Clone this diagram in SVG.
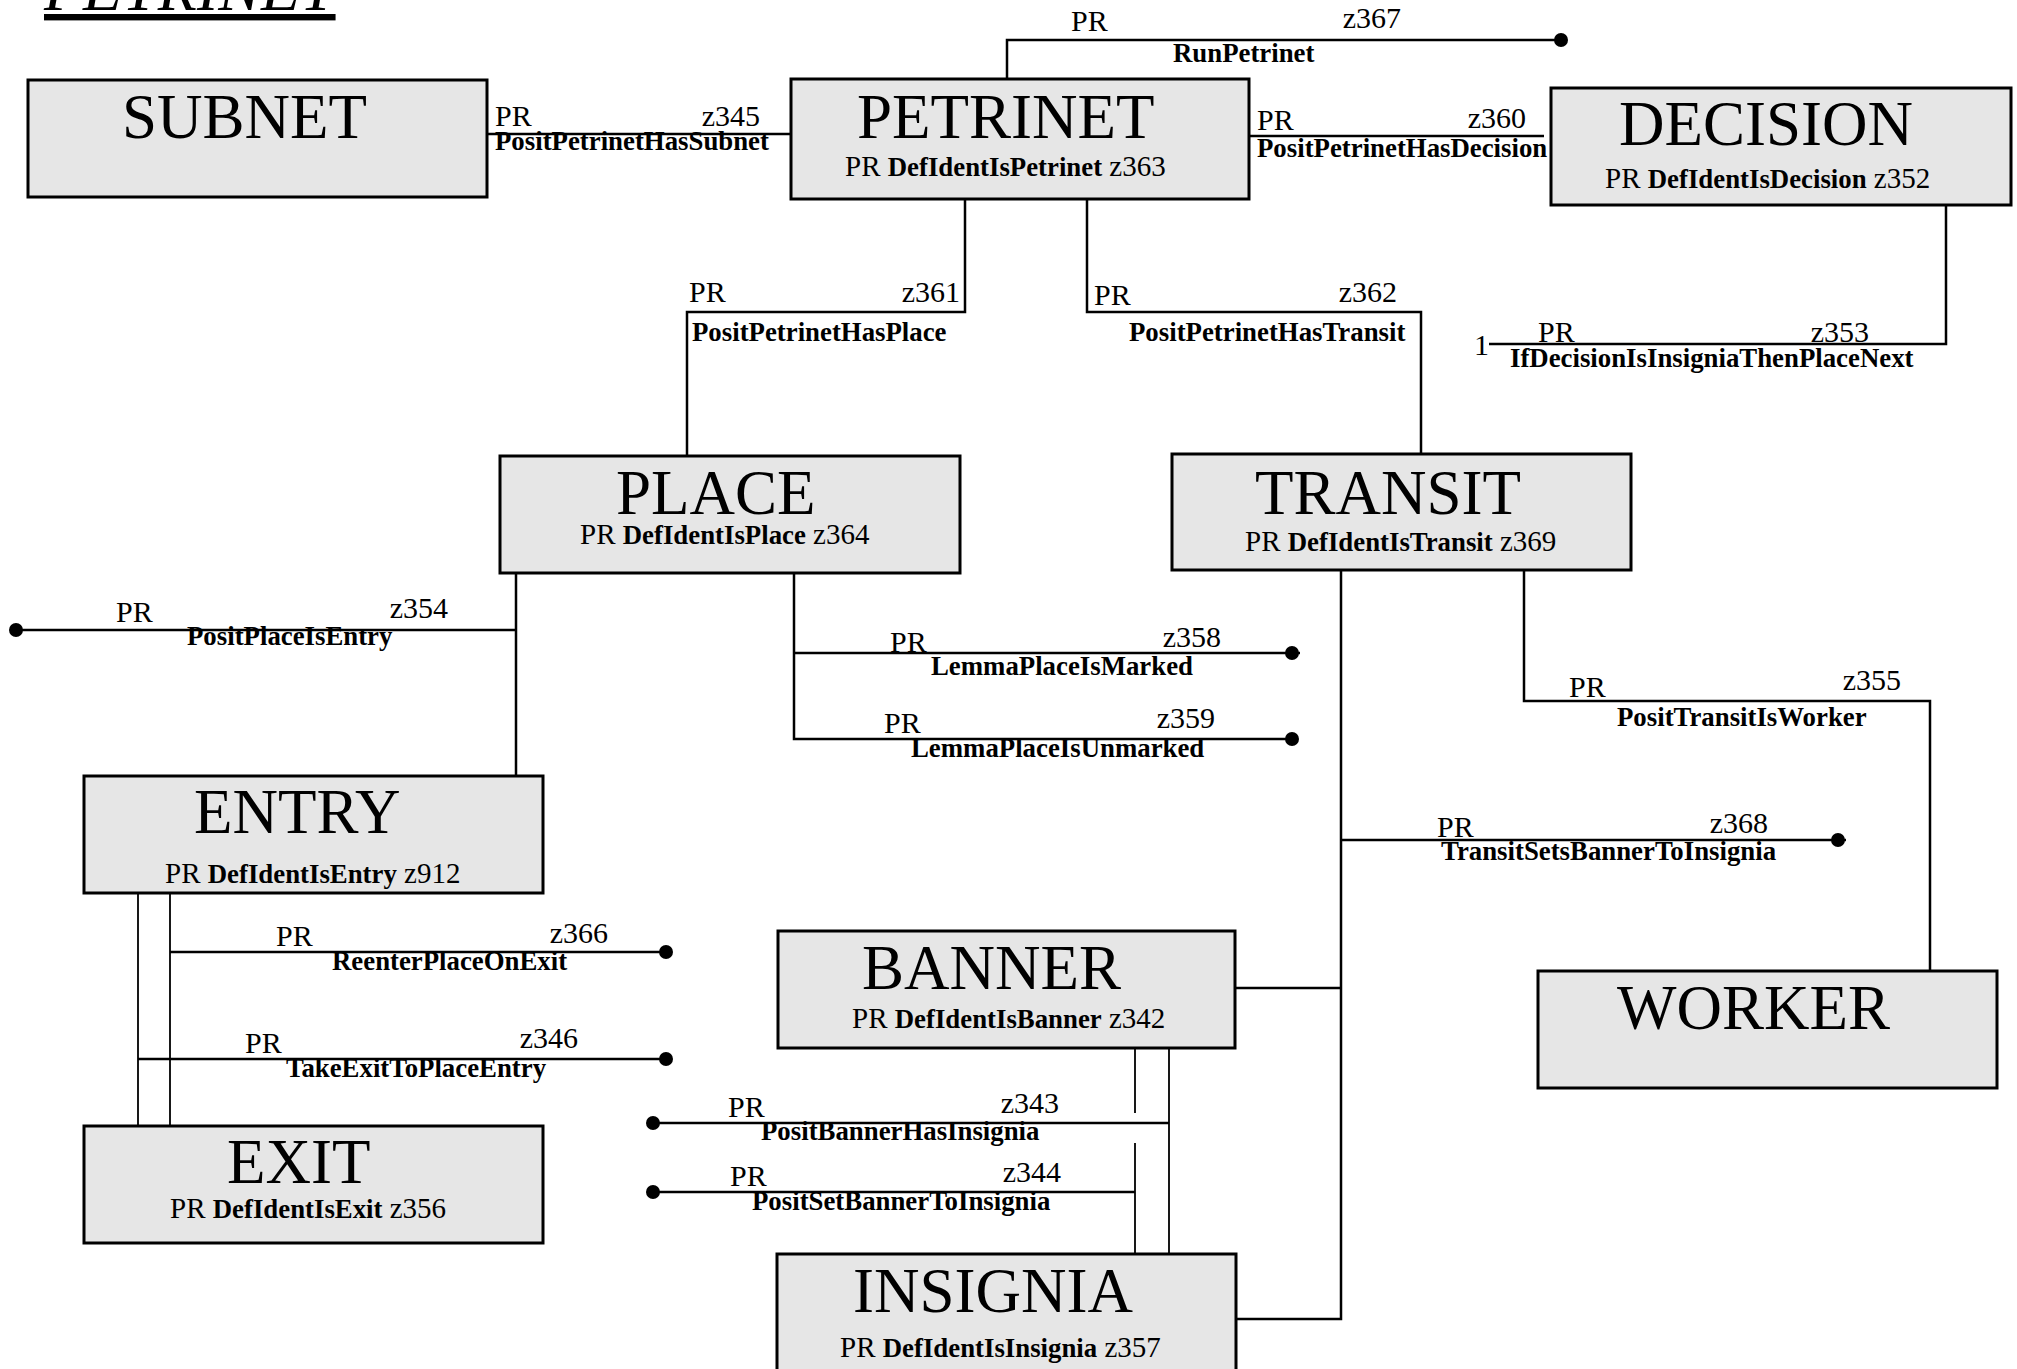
<svg xmlns="http://www.w3.org/2000/svg" width="2017" height="1369" viewBox="0 0 2017 1369">
<style>
text{font-family:"Liberation Serif","Times New Roman",serif;fill:#000}
.box{fill:#e6e6e6;stroke:#000;stroke-width:3}
.t{font-size:63px}
.s{font-size:29px}
.b{font-weight:bold;font-size:26.8px}
.l{font-size:30px}
.lb{font-size:26.8px;font-weight:bold}
.e{text-anchor:end}
.c{stroke:#000;stroke-width:2.5;fill:none}
.thin{stroke-width:1.8}
.dot{fill:#000}
</style>
<rect width="2017" height="1369" fill="#fff"/>
<text x="44" y="10" font-size="64" font-style="italic" text-decoration="underline">PETRINET</text>

<g id="connectors">
  <g id="c-subnet">
    <path class="c" d="M487,134 H791"/>
    <text class="l" x="495" y="126">PR</text><text class="l e" x="760" y="126">z345</text>
    <text class="lb" x="495" y="150">PositPetrinetHasSubnet</text>
  </g>
  <g id="c-run">
    <path class="c" d="M1007,79 V40 H1561"/><circle class="dot" cx="1561" cy="40" r="7"/>
    <text class="l" x="1071" y="31">PR</text><text class="l e" x="1401" y="28">z367</text>
    <text class="lb" x="1173" y="62">RunPetrinet</text>
  </g>
  <g id="c-decision">
    <path class="c" d="M1249,136 H1544"/>
    <text class="l" x="1257" y="130">PR</text><text class="l e" x="1526" y="128">z360</text>
    <text class="lb" x="1257" y="157">PositPetrinetHasDecision</text>
  </g>
  <g id="c-ifdecision">
    <path class="c" d="M1946,205 V344 H1489"/>
    <text class="l" x="1474" y="355">1</text>
    <text class="l" x="1538" y="342">PR</text><text class="l e" x="1869" y="342">z353</text>
    <text class="lb" x="1510" y="367">IfDecisionIsInsigniaThenPlaceNext</text>
  </g>
  <g id="c-place">
    <path class="c" d="M965,199 V312 H687 V456"/>
    <text class="l" x="689" y="302">PR</text><text class="l e" x="960" y="302">z361</text>
    <text class="lb" x="692" y="341">PositPetrinetHasPlace</text>
  </g>
  <g id="c-transit">
    <path class="c" d="M1087,199 V312 H1421 V454"/>
    <text class="l" x="1094" y="305">PR</text><text class="l e" x="1397" y="302">z362</text>
    <text class="lb" x="1129" y="341">PositPetrinetHasTransit</text>
  </g>
  <g id="c-entry">
    <path class="c" d="M516,573 V776 M516,630 H16"/><circle class="dot" cx="16" cy="630" r="7"/>
    <text class="l" x="116" y="622">PR</text><text class="l e" x="448" y="618">z354</text>
    <text class="lb" x="187" y="645">PositPlaceIsEntry</text>
  </g>
  <g id="c-marked">
    <path class="c" d="M794,573 V739 H1292 M794,653 H1300"/>
    <circle class="dot" cx="1292" cy="653" r="7"/><circle class="dot" cx="1292" cy="739" r="7"/>
    <text class="l" x="890" y="652">PR</text><text class="l e" x="1221" y="647">z358</text>
    <text class="lb" x="931" y="675">LemmaPlaceIsMarked</text>
    <text class="l" x="884" y="733">PR</text><text class="l e" x="1215" y="728">z359</text>
    <text class="lb" x="911" y="757">LemmaPlaceIsUnmarked</text>
  </g>
  <g id="c-worker">
    <path class="c" d="M1524,570 V701 H1930 V971"/>
    <text class="l" x="1569" y="697">PR</text><text class="l e" x="1901" y="690">z355</text>
    <text class="lb" x="1617" y="726">PositTransitIsWorker</text>
  </g>
  <g id="c-transit-banner">
    <path class="c" d="M1341,570 V1319 H1236 M1341,988 H1235 M1341,840 H1846"/>
    <circle class="dot" cx="1838" cy="840" r="7"/>
    <text class="l" x="1437" y="837">PR</text><text class="l e" x="1768" y="833">z368</text>
    <text class="lb" x="1441" y="860">TransitSetsBannerToInsignia</text>
  </g>
  <g id="c-entry-exit">
    <path class="c thin" d="M138,893 V1126 M170,893 V1126"/>
    <path class="c" d="M170,952 H666 M138,1059 H666"/>
    <circle class="dot" cx="666" cy="952" r="7"/><circle class="dot" cx="666" cy="1059" r="7"/>
    <text class="l" x="276" y="946">PR</text><text class="l e" x="608" y="943">z366</text>
    <text class="lb" x="332" y="970">ReenterPlaceOnExit</text>
    <text class="l" x="245" y="1053">PR</text><text class="l e" x="578" y="1048">z346</text>
    <text class="lb" x="286" y="1077">TakeExitToPlaceEntry</text>
  </g>
  <g id="c-banner-insignia">
    <path class="c thin" d="M1169,1048 V1254 M1135,1048 V1113 M1135,1143 V1254"/>
    <path class="c" d="M1169,1123 H653 M1135,1192 H653"/>
    <circle class="dot" cx="653" cy="1123" r="7"/><circle class="dot" cx="653" cy="1192" r="7"/>
    <text class="l" x="728" y="1117">PR</text><text class="l e" x="1059" y="1113">z343</text>
    <text class="lb" x="761" y="1140">PositBannerHasInsignia</text>
    <text class="l" x="730" y="1186">PR</text><text class="l e" x="1061" y="1182">z344</text>
    <text class="lb" x="752" y="1210">PositSetBannerToInsignia</text>
  </g>
</g>

<g id="SUBNET"><rect class="box" x="28" y="80" width="459" height="117"/>
  <text class="t" x="122" y="138">SUBNET</text></g>
<g id="PETRINET"><rect class="box" x="791" y="79" width="458" height="120"/>
  <text class="t" x="857" y="138">PETRINET</text>
  <text class="s" x="845" y="176">PR <tspan class="b">DefIdentIsPetrinet</tspan> z363</text></g>
<g id="DECISION"><rect class="box" x="1551" y="88" width="460" height="117"/>
  <text class="t" x="1619" y="145">DECISION</text>
  <text class="s" x="1605" y="188">PR <tspan class="b">DefIdentIsDecision</tspan> z352</text></g>
<g id="PLACE"><rect class="box" x="500" y="456" width="460" height="117"/>
  <text class="t" x="616" y="514">PLACE</text>
  <text class="s" x="580" y="544">PR <tspan class="b">DefIdentIsPlace</tspan> z364</text></g>
<g id="TRANSIT"><rect class="box" x="1172" y="454" width="459" height="116"/>
  <text class="t" x="1255" y="514">TRANSIT</text>
  <text class="s" x="1245" y="551">PR <tspan class="b">DefIdentIsTransit</tspan> z369</text></g>
<g id="ENTRY"><rect class="box" x="84" y="776" width="459" height="117"/>
  <text class="t" x="194" y="833">ENTRY</text>
  <text class="s" x="165" y="883">PR <tspan class="b">DefIdentIsEntry</tspan> z912</text></g>
<g id="EXIT"><rect class="box" x="84" y="1126" width="459" height="117"/>
  <text class="t" x="227" y="1183">EXIT</text>
  <text class="s" x="170" y="1218">PR <tspan class="b">DefIdentIsExit</tspan> z356</text></g>
<g id="BANNER"><rect class="box" x="778" y="931" width="457" height="117"/>
  <text class="t" x="862" y="989">BANNER</text>
  <text class="s" x="852" y="1028">PR <tspan class="b">DefIdentIsBanner</tspan> z342</text></g>
<g id="INSIGNIA"><rect class="box" x="777" y="1254" width="459" height="120"/>
  <text class="t" x="853" y="1312">INSIGNIA</text>
  <text class="s" x="840" y="1357">PR <tspan class="b">DefIdentIsInsignia</tspan> z357</text></g>
<g id="WORKER"><rect class="box" x="1538" y="971" width="459" height="117"/>
  <text class="t" x="1617" y="1029">WORKER</text></g>
</svg>
